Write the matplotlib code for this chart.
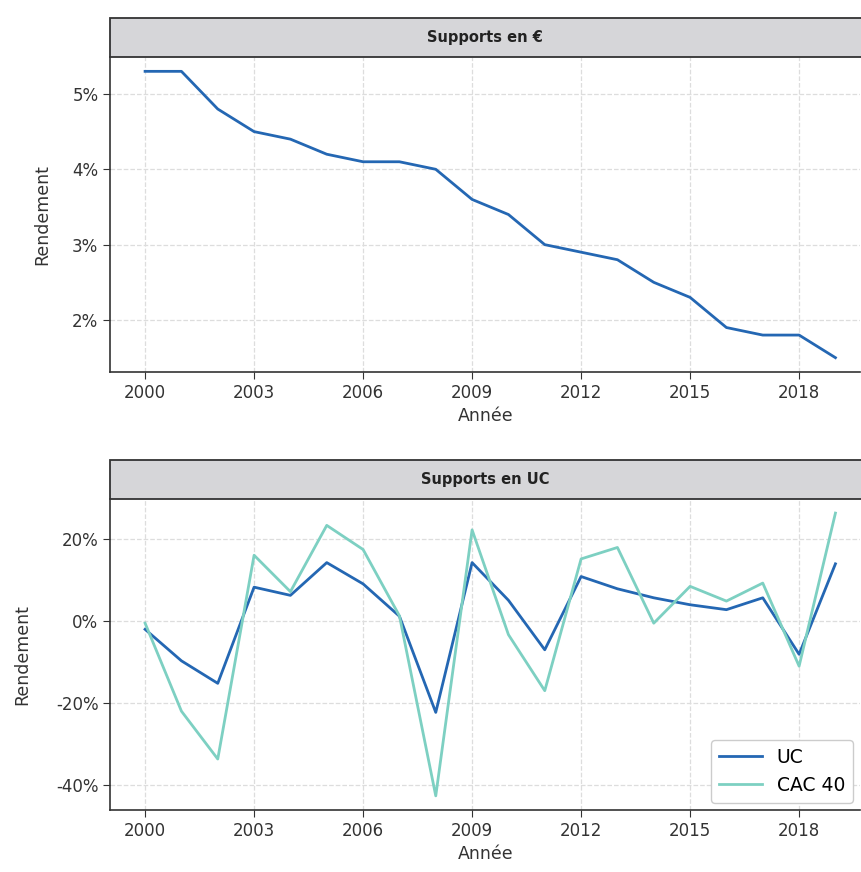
import numpy as np
import matplotlib
matplotlib.use("Agg")
import matplotlib.pyplot as plt
from matplotlib.patches import Rectangle
from matplotlib.ticker import FuncFormatter

# donnees
annees = list(range(2000, 2020))
fonds_euro = [5.3, 5.3, 4.8, 4.5, 4.4, 4.2, 4.1, 4.1, 4.0, 3.6,
              3.4, 3.0, 2.9, 2.8, 2.5, 2.3, 1.9, 1.8, 1.8, 1.5]
uc = [-2.0, -9.7, -15.2, 8.3, 6.3, 14.3, 9.1, 1.2, -22.3, 14.3,
      5.1, -7.0, 10.9, 7.9, 5.7, 4.0, 2.8, 5.7, -8.1, 14.0]
cac40 = [-0.5, -22.0, -33.7, 16.1, 7.2, 23.4, 17.5, 1.3, -42.7, 22.3,
         -3.3, -17.0, 15.2, 18.0, -0.5, 8.5, 4.9, 9.3, -11.0, 26.4]
titres = ["Supports en €", "Supports en UC"]
xticks = list(range(2000, 2020, 3))

bleu = "#2467b3"
turquoise = "#7dd0c2"
gris = "#333333"

fig = plt.figure(figsize=(8.61, 8.72), dpi=100)
ax1 = fig.add_axes([0.128, 0.5734, 0.871, 0.3612])
ax2 = fig.add_axes([0.128, 0.0711, 0.871, 0.3567])

ax1.plot(annees, fonds_euro, color=bleu, lw=2)
ax2.plot(annees, uc, color=bleu, lw=2, label="UC")
ax2.plot(annees, cac40, color=turquoise, lw=2, label="CAC 40")

pct = FuncFormatter(lambda v, p: "%d%%" % round(v))
for ax, titre in zip([ax1, ax2], titres):
    ax.set_xticks(xticks)
    ax.set_xlim(1999.04, 2019.68)
    ax.yaxis.set_major_formatter(pct)
    ax.grid(True, ls="--", color="#dddddd", lw=0.9)
    ax.set_axisbelow(True)
    ax.tick_params(labelsize=12, colors=gris, length=5)
    for s in ["top", "right"]:
        ax.spines[s].set_visible(False)
    for s in ["left", "bottom"]:
        ax.spines[s].set_color(gris)
        ax.spines[s].set_linewidth(1.2)
    ax.set_xlabel("Année", fontsize=12.5, color=gris)
    ax.set_ylabel("Rendement", fontsize=12.5, color=gris)
    # bandeau titre
    rect = Rectangle((0, 1), 1.01, 0.125, transform=ax.transAxes, clip_on=False,
                     facecolor="#d6d6d9", edgecolor=gris, lw=1.3)
    ax.add_patch(rect)
    ax.text(0.5, 1.0625, titre, transform=ax.transAxes, ha="center", va="center",
            fontsize=10.5, fontweight="bold", color="#222222")

ax1.set_yticks([2, 3, 4, 5])
ax2.set_yticks([-40, -20, 0, 20])
ax1.yaxis.set_label_coords(-0.078, 0.5)
ax2.yaxis.set_label_coords(-0.105, 0.5)

ax2.legend(loc="lower right", fontsize=13.5, framealpha=1, edgecolor="#cccccc",
           handlelength=2.3, borderaxespad=0.4)

fig.savefig("out.png", dpi=100)
